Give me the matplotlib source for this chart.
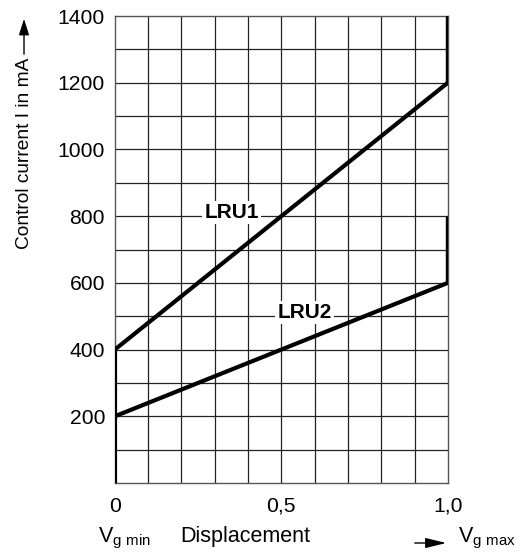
import matplotlib.pyplot as plt
import numpy as np

plt.rcParams['font.family'] = ['Liberation Sans', 'DejaVu Sans']

# characteristic curves (displacement -> control current)
lru1_x = [0.0, 1.0, 1.0]
lru1_y = [400, 1200, 1400]
lru2_x = [0.0, 1.0, 1.0]
lru2_y = [200, 600, 800]
vmin_x = [0.0, 0.0]
vmin_y = [0, 400]

x_ticks = [0, 0.5, 1.0]
x_tick_labels = ['0', '0,5', '1,0']
y_ticks = [200, 400, 600, 800, 1000, 1200, 1400]

fig = plt.figure(figsize=(5.22, 5.52), dpi=100)
ax = fig.add_axes([0.220, 0.125, 0.638, 0.846])

ax.set_xlim(0, 1.0)
ax.set_ylim(0, 1400)

# grid every 0.1 / 100 mA
for gx in np.arange(0.1, 1.0, 0.1):
    ax.axvline(gx, color='#222222', lw=0.9, zorder=1)
for gy in range(100, 1400, 100):
    ax.axhline(gy, color='#222222', lw=0.9, zorder=1)
for s in ax.spines.values():
    s.set_color('#555555')
    s.set_linewidth(1.0)

ax.plot(vmin_x, vmin_y, color='black', lw=3, solid_capstyle='butt', zorder=3)
ax.plot(lru1_x, lru1_y, color='black', lw=3, solid_capstyle='butt', zorder=3)
ax.plot(lru2_x, lru2_y, color='black', lw=3, solid_capstyle='butt', zorder=3)

box = dict(facecolor='white', edgecolor='none', pad=1.5)
ax.text(0.35, 812, 'LRU1', fontsize=15, fontweight='bold', ha='center', va='center',
        bbox=box, zorder=4)
ax.text(0.57, 512, 'LRU2', fontsize=15, fontweight='bold', ha='center', va='center',
        bbox=box, zorder=4)

ax.set_xticks(x_ticks)
ax.set_xticklabels(x_tick_labels)
ax.set_yticks(y_ticks)
ax.tick_params(length=0, labelsize=15.2, colors='black')
ax.tick_params(axis='y', pad=7)
ax.tick_params(axis='x', pad=10)

# y axis label with arrow
fig.text(0.046, 0.723, 'Control current I in mA', fontsize=13.8, rotation=90,
         ha='center', va='center')
fig.add_artist(plt.matplotlib.patches.FancyArrowPatch(
    (0.046, 1 - 57 / 552), (0.046, 1 - 16 / 552), transform=fig.transFigure,
    arrowstyle='-|>,head_length=0.7,head_width=0.22', mutation_scale=14,
    color='black', lw=1.0))

# x axis texts
fig.text(98 / 522, 0.018, r'V$_\mathregular{g\ min}$', fontsize=15.5, ha='left', va='baseline')
fig.text(245 / 522, 0.018, 'Displacement', fontsize=15.5, ha='center', va='baseline')
fig.text(458 / 522, 0.018, r'V$_\mathregular{g\ max}$', fontsize=15.5, ha='left', va='baseline')
fig.add_artist(plt.matplotlib.patches.FancyArrowPatch(
    (412 / 522, 1 - 543 / 552), (449 / 522, 1 - 543 / 552), transform=fig.transFigure,
    arrowstyle='-|>,head_length=0.9,head_width=0.22', mutation_scale=14,
    color='black', lw=1.0))

fig.savefig('out.png', dpi=100)
